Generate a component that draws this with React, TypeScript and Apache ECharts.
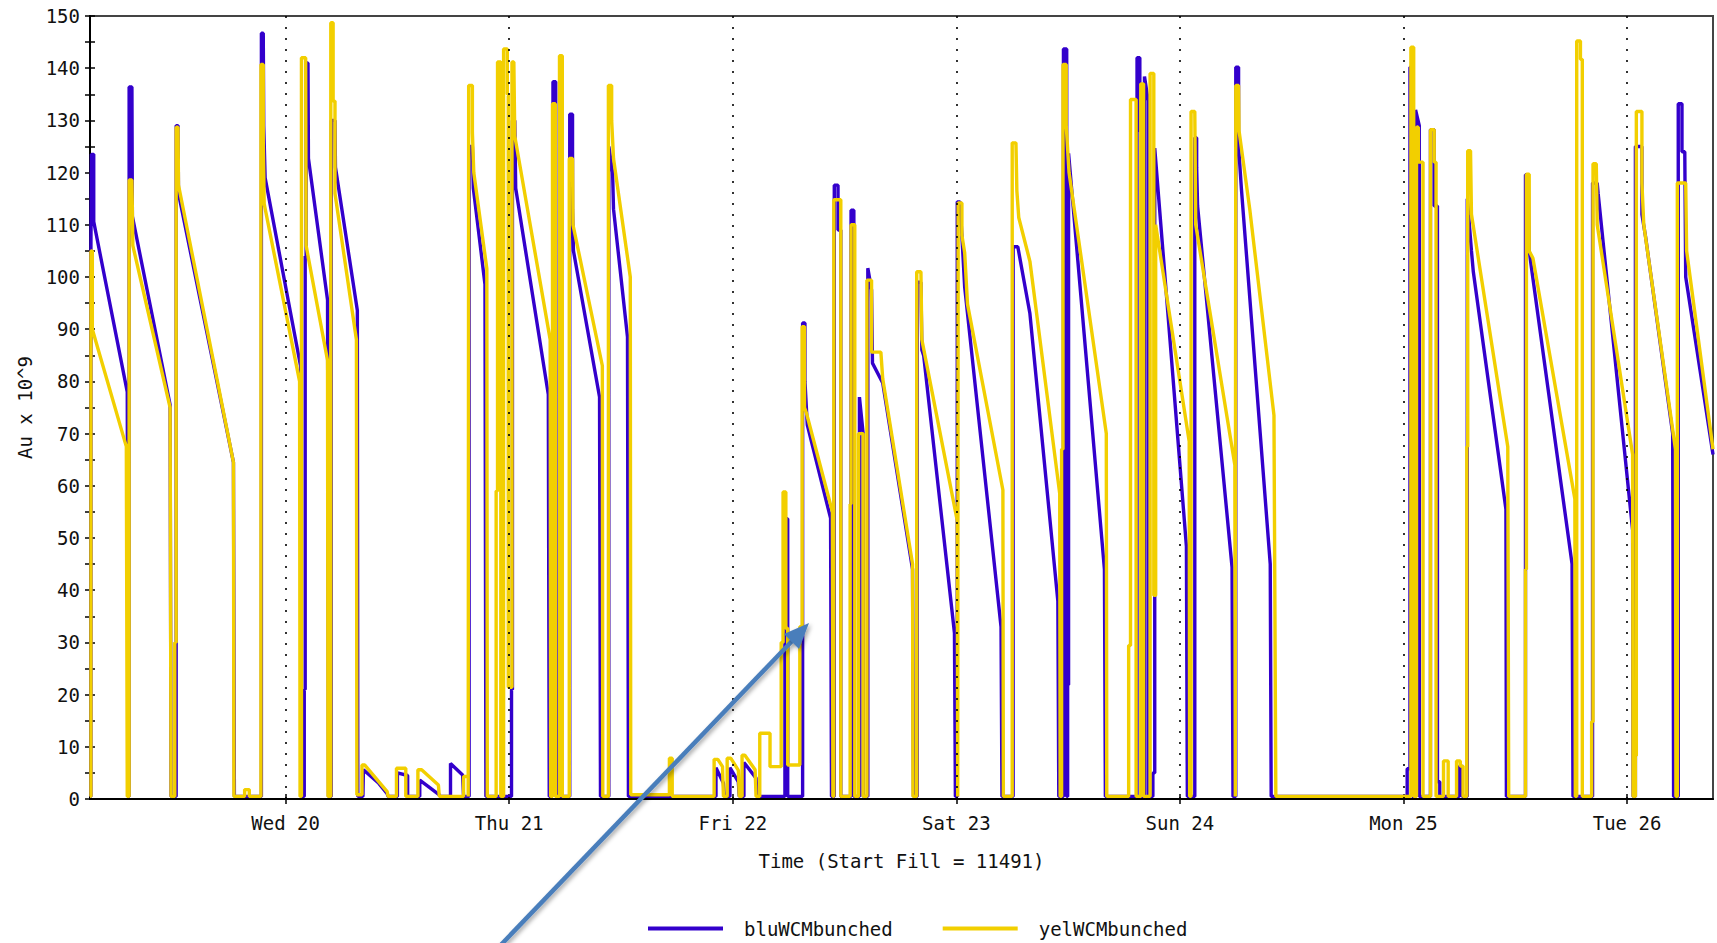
import React, { useEffect, useRef } from "react";
import * as echarts from "echarts";

// x values: hours relative to Wed 20 00:00
const xMin = -21;
const xMax = 153.23;
const dayTicks = [0, 24, 48, 72, 96, 120, 144];
const dayLabels = ["Wed 20", "Thu 21", "Fri 22", "Sat 23", "Sun 24", "Mon 25", "Tue 26"];
const yMin = 0;
const yMax = 150;
const yStep = 10;
const seriesNames = ["bluWCMbunched", "yelWCMbunched"];
const xTitle = "Time (Start Fill = 11491)";
const yTitle = "Au x 10^9";

const bluWCMbunched: [number, number][] = [
  [-21.0, 0.5], [-20.9, 0.5], [-20.9, 106], [-20.85, 123.5], [-20.6, 123.5], [-20.6, 110.6], [-17.0, 78], [-16.9, 0.5],
  [-16.8, 0.5], [-16.8, 136.4], [-16.5, 136.4], [-16.45, 111.6], [-12.4, 75.5], [-12.3, 0.5],
  [-11.75, 0.5], [-11.75, 129], [-11.55, 129], [-11.5, 116], [-5.6, 64.5], [-5.5, 0.5],
  [-2.6, 0.5], [-2.6, 146.7], [-2.4, 146.7], [-2.35, 129], [-2.2, 119], [1.6, 83], [1.65, 0.5],
  [2.0, 0.5], [2.0, 21], [2.1, 21], [2.1, 104], [2.2, 104], [2.2, 141], [2.4, 141], [2.45, 122.7], [4.5, 95.6], [4.6, 0.5],
  [4.9, 0.5], [4.9, 130], [5.3, 130], [5.35, 121], [7.7, 93.6], [7.75, 0.5],
  [8.3, 0.5], [8.35, 5.6], [10.0, 3.0], [10.9, 1.0], [11.0, 0.5],
  [12.0, 0.5], [12.0, 5.0], [13.1, 4.5], [13.1, 0.5],
  [14.4, 0.5], [14.4, 3.6], [16.5, 0.8], [16.6, 0.5],
  [17.7, 0.5], [17.7, 6.8], [19.0, 4.6], [19.1, 0.5],
  [19.7, 0.5], [19.7, 125], [20.05, 125], [20.15, 117], [21.4, 98.6], [21.5, 0.5],
  [24.25, 0.5], [24.25, 21], [24.35, 21], [24.35, 130], [24.6, 130], [24.7, 117], [28.2, 77.5], [28.3, 0.5],
  [28.6, 0.5], [28.6, 2.5], [28.7, 2.5], [28.7, 137.4], [29.0, 137.4], [29.0, 126], [29.05, 0.5],
  [30.5, 0.5], [30.5, 131.2], [30.8, 131.2], [30.8, 113], [30.9, 105], [33.7, 77], [33.8, 0.5],
  [34.7, 0.5], [34.7, 125], [35.1, 120], [35.2, 113], [36.7, 88.5], [36.8, 0.5],
  [46.2, 0.5], [46.2, 6], [47.0, 3], [47.1, 0.5],
  [47.7, 0.5], [47.7, 6], [48.6, 3.3], [48.7, 0.5],
  [49.2, 0.5], [49.2, 7], [50.5, 4.0], [50.6, 0.5],
  [53.6, 0.5], [53.6, 53.7], [53.9, 53.7], [53.9, 0.5],
  [55.5, 0.5], [55.5, 91.2], [55.75, 91.2], [55.75, 80], [56.0, 71.7], [58.5, 53.8], [58.6, 0.5],
  [58.9, 0.5], [58.9, 117.6], [59.3, 117.6], [59.3, 109], [59.6, 109], [59.6, 0.5],
  [60.7, 0.5], [60.7, 112.8], [61.0, 112.8], [61.0, 0.5],
  [61.6, 0.5], [61.6, 77], [62.0, 70], [62.0, 0.5],
  [62.5, 0.5], [62.5, 101.7], [62.9, 97.5], [63.0, 83.5], [64.1, 79.7], [67.3, 44], [67.4, 0.5],
  [67.8, 0.5], [67.8, 99], [68.2, 99], [68.3, 86], [68.5, 84.9], [71.8, 31.8], [71.9, 0.5],
  [72.1, 0.5], [72.1, 114.4], [72.4, 114.4], [72.9, 98], [76.8, 33], [76.9, 0.5],
  [78.1, 0.5], [78.1, 105.8], [78.6, 105.8], [79.9, 93], [82.9, 37.9], [83.0, 0.5],
  [83.5, 0.5], [83.5, 143.7], [83.85, 143.7], [83.85, 0.5], [83.95, 0.5], [83.95, 21.9], [84.05, 21.9], [84.05, 123.7], [87.9, 44], [88.0, 0.5],
  [91.4, 0.5], [91.4, 142], [91.7, 142], [91.7, 128], [91.9, 128], [91.9, 0.5],
  [92.2, 0.5], [92.2, 138.4], [92.6, 133.7], [92.6, 0.5],
  [93.1, 0.5], [93.1, 5], [93.3, 5], [93.3, 124.7], [96.7, 48.4], [96.8, 0.5],
  [97.6, 0.5], [97.6, 126.7], [97.8, 126.7], [97.8, 121], [97.9, 113.6], [101.6, 44.4], [101.7, 0.5],
  [102.0, 0.5], [102.0, 140.2], [102.3, 140.2], [102.3, 125], [102.6, 117], [105.7, 45], [105.8, 0.5],
  [120.4, 0.5], [120.4, 5.8], [120.7, 5.8], [120.7, 140.2], [120.95, 140.2], [120.95, 0.5],
  [121.3, 0.5], [121.3, 132], [121.7, 129], [121.7, 0.5],
  [122.9, 0.5], [122.9, 128.2], [123.3, 128.2], [123.3, 113.6], [123.65, 113.6], [123.65, 3.3], [123.9, 3.3], [123.9, 0.5],
  [126.0, 0.5], [126.0, 6.3], [126.3, 6.3], [126.3, 0.5],
  [126.85, 0.5], [126.85, 115], [127.3, 105], [127.5, 101], [131.0, 55.5], [131.05, 0.5],
  [133.1, 0.5], [133.1, 119.6], [133.4, 119.6], [133.5, 105], [133.8, 101], [138.1, 45], [138.2, 0.5],
  [140.3, 0.5], [140.3, 118], [140.8, 118], [140.9, 116], [144.6, 51.5], [144.65, 0.5],
  [144.9, 0.5], [144.9, 125], [145.6, 125], [145.6, 112], [146.0, 107.6], [148.9, 70], [149.0, 0.5],
  [149.5, 0.5], [149.5, 133.2], [149.9, 133.2], [149.9, 124], [150.2, 124], [150.3, 100], [153.23, 66],
];

const yelWCMbunched: [number, number][] = [
  [-21.0, 0.5], [-20.9, 0.5], [-20.9, 105], [-20.75, 105], [-20.75, 90], [-17.1, 67.5], [-17.0, 0.5],
  [-16.8, 0.5], [-16.8, 118.6], [-16.5, 118.6], [-16.4, 106], [-12.4, 75], [-12.3, 0.5],
  [-11.9, 0.5], [-11.9, 30], [-11.75, 30], [-11.75, 128.7], [-11.55, 128.7], [-11.5, 117.6], [-5.6, 64.5], [-5.55, 0.5],
  [-4.4, 0.5], [-4.4, 1.8], [-3.9, 1.8], [-3.9, 0.5],
  [-2.65, 0.5], [-2.65, 140.7], [-2.4, 140.7], [-2.4, 126], [-2.3, 114], [1.5, 80], [1.55, 0.5],
  [1.7, 0.5], [1.7, 142], [2.15, 142], [2.2, 106], [4.5, 84], [4.55, 0.5],
  [4.85, 0.5], [4.85, 148.7], [5.1, 148.7], [5.1, 133.7], [5.3, 133.7], [5.3, 116], [7.6, 88], [7.65, 0.8],
  [8.2, 0.8], [8.2, 6.5], [8.5, 6.5], [10.9, 1.4], [11.0, 0.5],
  [11.9, 0.5], [11.9, 5.9], [12.9, 5.9], [12.9, 0.5],
  [14.2, 0.5], [14.2, 5.6], [14.6, 5.6], [16.4, 2.7], [16.5, 0.5],
  [19.1, 0.5], [19.1, 4.3], [19.6, 4.3], [19.6, 0.5],
  [19.65, 0.5], [19.65, 136.7], [20.05, 136.7], [20.05, 127.7], [20.2, 120], [21.6, 101.6], [21.65, 0.5],
  [22.6, 0.5], [22.6, 59], [22.75, 59], [22.75, 141.2], [23.1, 141.2], [23.1, 0.5], [23.4, 0.5], [23.4, 143.7], [23.8, 143.7], [23.8, 135], [23.9, 135], [23.9, 21.4], [24.3, 21.4], [24.3, 141.2], [24.5, 141.2], [24.6, 127], [28.4, 88], [28.45, 0.5],
  [28.65, 0.5], [28.65, 133.2], [28.95, 133.2], [28.95, 0.5], [29.4, 0.5], [29.4, 142.4], [29.7, 142.4], [29.7, 0.5],
  [30.45, 0.5], [30.45, 122.7], [30.8, 122.7], [30.85, 110], [34.0, 83], [34.05, 0.5],
  [34.65, 0.5], [34.65, 136.7], [35.0, 136.7], [35.0, 130], [35.2, 122.7], [37.0, 100], [37.05, 0.8],
  [41.2, 0.8], [41.2, 7.8], [41.5, 7.8], [41.5, 0.5],
  [46.0, 0.5], [46.0, 7.6], [46.4, 7.6], [46.9, 6.2], [47.0, 0.5],
  [47.4, 0.5], [47.4, 7.8], [47.8, 7.8], [48.6, 5.5], [48.7, 0.5],
  [49.0, 0.5], [49.0, 8.4], [49.3, 8.4], [50.4, 5.6], [50.5, 0.5],
  [50.9, 0.5], [50.9, 12.6], [52.0, 12.6], [52.0, 6.2], [53.2, 6.2], [53.2, 30], [53.4, 30], [53.4, 58.8], [53.7, 58.8], [53.7, 32.7], [53.9, 32.7], [53.9, 6.5], [55.2, 6.5], [55.2, 33], [55.45, 33], [55.45, 90.5], [55.7, 90.5], [55.7, 75], [55.9, 74], [58.7, 55], [58.75, 0.5],
  [58.85, 0.5], [58.85, 114.8], [59.6, 114.8], [59.6, 0.5],
  [60.6, 0.5], [60.6, 56.5], [60.7, 56.5], [60.7, 110], [61.1, 110], [61.1, 0.5],
  [61.5, 0.5], [61.5, 70], [62.0, 70], [62.0, 0.5],
  [62.4, 0.5], [62.4, 99.4], [62.9, 99.4], [62.9, 85.6], [63.9, 85.6], [64.1, 80.5], [67.3, 45], [67.35, 0.5],
  [67.75, 0.5], [67.75, 101], [68.2, 101], [68.3, 88], [72.1, 53.3], [72.15, 0.5],
  [72.2, 0.5], [72.2, 114.2], [72.6, 114.2], [72.6, 108], [72.9, 104.6], [73.2, 94.8], [77.0, 59.2], [77.05, 0.5],
  [78.0, 0.5], [78.0, 125.7], [78.4, 125.7], [78.5, 116.5], [78.7, 111.4], [79.9, 103], [83.1, 58.5], [83.15, 0.5],
  [83.3, 0.5], [83.3, 67], [83.45, 67], [83.45, 140.7], [83.8, 140.7], [83.8, 129], [84.0, 123], [84.1, 120], [88.1, 70], [88.15, 0.5],
  [90.5, 0.5], [90.5, 29.4], [90.7, 29.4], [90.7, 134], [91.3, 134], [91.3, 0.5], [91.8, 0.5], [91.8, 137], [92.1, 137], [92.1, 0.5], [92.8, 0.5], [92.8, 139], [93.2, 139], [93.2, 39], [93.4, 39], [93.4, 110], [97.0, 68.5], [97.05, 0.5],
  [97.2, 0.5], [97.2, 131.7], [97.6, 131.7], [97.7, 110], [101.9, 64], [101.95, 0.5],
  [101.95, 22], [102.0, 22], [102.0, 136.7], [102.3, 136.7], [102.35, 128], [103.5, 113], [106.1, 73.5], [106.3, 0.5],
  [120.8, 0.5], [120.8, 144], [121.1, 144], [121.1, 0.5], [121.4, 0.5], [121.4, 128.7], [121.6, 128.7], [121.6, 122], [122.1, 122], [122.1, 0.5],
  [122.9, 0.5], [122.9, 128.2], [123.3, 128.2], [123.3, 122], [123.5, 122], [123.5, 0.5],
  [124.3, 0.5], [124.3, 7.3], [124.8, 7.3], [124.8, 0.5],
  [125.7, 0.5], [125.7, 7.3], [126.1, 7.3], [126.1, 6.3], [126.4, 6.3], [126.4, 0.5],
  [126.8, 0.5], [126.8, 67.5], [126.9, 67.5], [126.9, 124.2], [127.2, 124.2], [127.3, 112], [131.2, 67.5], [131.3, 0.5],
  [133.1, 0.5], [133.1, 44], [133.2, 44], [133.2, 119.7], [133.5, 119.7], [133.5, 105], [133.9, 103.6], [138.4, 57.5], [138.45, 0.5],
  [138.6, 0.5], [138.6, 145.2], [139.0, 145.2], [139.0, 141.7], [139.2, 141.7], [139.2, 0.5],
  [140.2, 0.5], [140.2, 14.8], [140.35, 14.8], [140.35, 121.7], [140.7, 121.7], [140.8, 110], [144.6, 66], [144.65, 0.5],
  [144.9, 0.5], [144.9, 8.3], [145.0, 8.3], [145.0, 131.7], [145.6, 131.7], [145.6, 118], [145.8, 110], [149.2, 67], [149.25, 0.5],
  [149.4, 0.5], [149.4, 118], [150.3, 118], [150.4, 105], [153.23, 67],
];

const BLUE = "#3300cc";
const YELLOW = "#f2cf00";
const ARROW = "#4a7ebb";
const FONT = "'DejaVu Sans Mono', monospace";

export default function App() {
  const ref = useRef<HTMLDivElement>(null);

  useEffect(() => {
    if (!ref.current) return;
    const chart = echarts.init(ref.current, null, { renderer: "svg" });
    const tickStyle = { color: "#000", width: 1.5 };
    chart.setOption({
      animation: false,
      backgroundColor: "#fff",
      grid: {
        left: 90,
        right: 4,
        top: 16,
        bottom: 144,
        show: true,
        borderColor: "#444",
        borderWidth: 2,
        backgroundColor: "transparent",
      },
      xAxis: [
        {
          type: "value",
          min: xMin,
          max: xMax,
          axisLine: { show: true, onZero: false, lineStyle: { color: "#000", width: 2 } },
          axisTick: { show: true, customValues: dayTicks, length: 5, lineStyle: tickStyle },
          axisLabel: {
            customValues: dayTicks,
            formatter: (v: number) => dayLabels[Math.round(v / 24)] ?? "",
            fontFamily: FONT,
            fontSize: 19,
            color: "#111",
            margin: 14,
          },
          splitLine: { show: false },
          name: xTitle,
          nameLocation: "middle",
          nameGap: 52,
          nameTextStyle: { fontFamily: FONT, fontSize: 19, color: "#111" },
        },
        {
          type: "value",
          min: xMin,
          max: xMax,
          position: "bottom",
          axisLine: { show: false, onZero: false },
          axisTick: { show: true, inside: true, customValues: dayTicks, length: 5, lineStyle: tickStyle },
          axisLabel: { show: false },
          splitLine: { show: false },
        },
      ],
      yAxis: [
        {
          type: "value",
          min: yMin,
          max: yMax,
          interval: yStep,
          position: "left",
          axisLine: { show: true, onZero: false, lineStyle: { color: "#000", width: 2 } },
          axisTick: { show: true, length: 5, lineStyle: tickStyle },
          minorTick: { show: true, splitNumber: 2, length: 5, lineStyle: tickStyle },
          axisLabel: { fontFamily: FONT, fontSize: 19, color: "#111", margin: 10 },
          splitLine: { show: false },
          name: yTitle,
          nameLocation: "middle",
          nameGap: 56,
          nameRotate: 90,
          nameTextStyle: { fontFamily: FONT, fontSize: 19, color: "#111" },
        },
        {
          type: "value",
          min: yMin,
          max: yMax,
          interval: yStep,
          position: "left",
          offset: 0,
          axisLine: { show: false, onZero: false },
          axisTick: { show: true, inside: true, length: 5, lineStyle: tickStyle },
          minorTick: { show: true, splitNumber: 2, length: 5, lineStyle: tickStyle },
          axisLabel: { show: false },
          splitLine: { show: false },
        },
      ],
      legend: {
        data: seriesNames,
        left: 643,
        top: 914,
        icon: "rect",
        itemWidth: 75,
        itemHeight: 4,
        itemGap: 50,
        textStyle: { fontFamily: FONT, fontSize: 19, color: "#111", padding: [0, 0, 0, 16] },
      },
      series: [
        {
          type: "line",
          data: [],
          silent: true,
          z: 1,
          markLine: {
            silent: true,
            symbol: "none",
            label: { show: false },
            lineStyle: { color: "#000", type: [2, 9], width: 1.6 },
            data: dayTicks.map((d) => ({ xAxis: d })),
          },
        },
        {
          name: seriesNames[0],
          type: "line",
          data: bluWCMbunched,
          showSymbol: false,
          symbol: "none",
          lineStyle: { color: BLUE, width: 3.4 },
          itemStyle: { color: BLUE },
          z: 2,
        },
        {
          name: seriesNames[1],
          type: "line",
          data: yelWCMbunched,
          showSymbol: false,
          symbol: "none",
          lineStyle: { color: YELLOW, width: 3.4 },
          itemStyle: { color: YELLOW },
          z: 3,
        },
      ],
      graphic: [
        {
          type: "line",
          z: 100,
          shape: { x1: 496, y1: 950, x2: 794, y2: 639 },
          style: {
            stroke: ARROW,
            lineWidth: 4.5,
            shadowBlur: 4,
            shadowColor: "rgba(0,0,0,0.35)",
            shadowOffsetX: 2,
            shadowOffsetY: 2,
          },
        },
        {
          type: "polygon",
          z: 100,
          shape: { points: [[809, 623], [784, 634], [799, 649]] },
          style: {
            fill: ARROW,
            shadowBlur: 4,
            shadowColor: "rgba(0,0,0,0.35)",
            shadowOffsetX: 2,
            shadowOffsetY: 2,
          },
        },
      ],
    });
    return () => chart.dispose();
  }, []);

  return (
    <div
      ref={ref}
      style={{ position: "fixed", left: 0, top: 0, width: 1717, height: 943, background: "#fff" }}
    />
  );
}
